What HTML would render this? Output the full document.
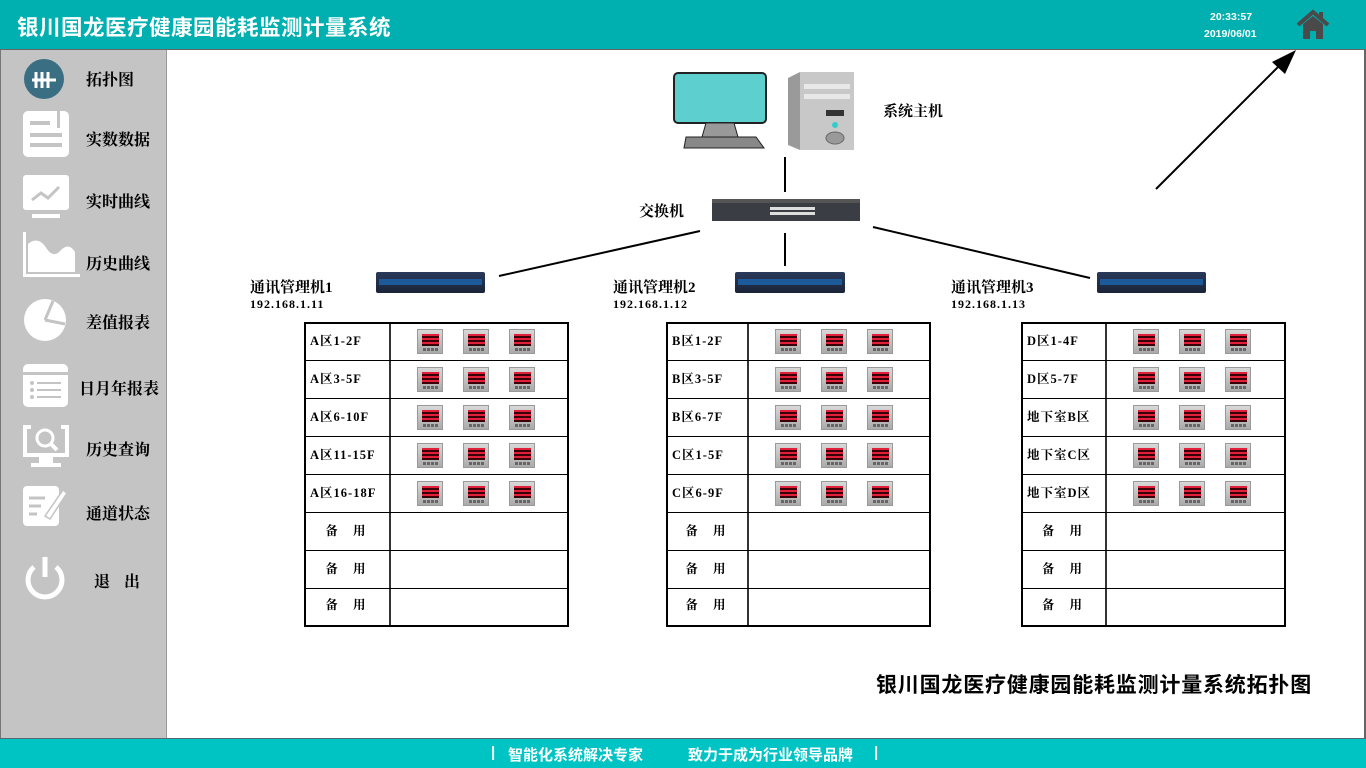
<!DOCTYPE html>
<html><head><meta charset="utf-8">
<style>
*{margin:0;padding:0;box-sizing:border-box}
body{width:1366px;height:768px;position:relative;overflow:hidden;background:#fff;font-family:"Liberation Sans","Noto Sans CJK SC",sans-serif}
.hdr{position:absolute;left:0;top:0;width:1366px;height:50px;background:#00afaf;border-bottom:1px solid #666}
.hdr .t{position:absolute;left:17px;top:11px;color:#fff;font-size:21.5px;font-weight:bold;letter-spacing:0.5px}
.clock{position:absolute;left:1204px;color:#fff;font-size:10.5px;font-weight:bold;font-family:"Liberation Sans",sans-serif}
.side{position:absolute;left:0;top:50px;width:167px;height:689px;background:#c4c4c4;border-left:1px solid #777;border-right:1px solid #999}
.side .lb{position:absolute;font-size:16px;font-weight:bold;color:#000;font-family:"Liberation Serif","Noto Serif CJK SC",serif}
.side svg{position:absolute}
.ftr{position:absolute;left:0;top:738px;width:1366px;height:30px;background:#00c4c4;border-top:1px solid #567}
.ftr span{position:absolute;top:5px;color:#fff;font-size:15px;font-weight:bold}
.rb{position:absolute;left:1364px;top:50px;width:2px;height:689px;background:#666}
.tbl{position:absolute;border:2px solid #000;background:#fff}
.row{position:absolute;left:0;height:38px;border-top:1px solid #000}
.vd{position:absolute;top:0;width:2px;height:100%;background:#333}
.lab{position:absolute;font-size:12.5px;font-weight:bold;font-family:"Liberation Serif","Noto Serif CJK SC",serif;color:#000;letter-spacing:1px}
.m{position:absolute;width:26px;height:25px;background:linear-gradient(#d8d8d8,#aaa);border:1px solid #999}
.m:before{content:"";position:absolute;left:4px;top:4px;width:17px;height:12px;background:repeating-linear-gradient(#e0203a 0 2px,#3a0008 2px 4px)}
.m:after{content:"";position:absolute;left:5px;top:18px;width:15px;height:3px;background:repeating-linear-gradient(90deg,#666 0 3px,transparent 3px 4px)}
.txt{position:absolute;font-weight:bold;color:#000;font-family:"Liberation Serif","Noto Serif CJK SC",serif}
.dev{position:absolute;height:21px;background:linear-gradient(#2a3a5a,#1a2438);border-radius:2px}
.dev:before{content:"";position:absolute;left:3px;right:3px;top:7px;height:6px;background:#1c5a9a}
</style></head><body>
<div class="hdr"><div class="t">银川国龙医疗健康园能耗监测计量系统</div>
<div class="clock" style="top:11px;left:1210px">20:33:57</div>
<div class="clock" style="top:28px">2019/06/01</div>
<svg style="position:absolute;left:1296px;top:9px" width="34" height="32" viewBox="0 0 34 32"><path d="M2 16 L17 3 L32 16" fill="none" stroke="#4a4a4a" stroke-width="4"/><rect x="23" y="3" width="4" height="8" fill="#4a4a4a"/><path d="M7 15 L17 7 L27 15 V30 H20 V22 H14 V30 H7 Z" fill="#4a4a4a"/></svg>
</div>

<div class="side">
<svg style="left:22px;top:8px" width="42" height="42"><circle cx="21" cy="21" r="20" fill="#3a6e82"/><path d="M9 22 H33 M13 14 V30 M19 14 V30 M25 14 V30" stroke="#fff" stroke-width="3" fill="none"/></svg>
<div class="lb" style="left:85px;top:17px">拓扑图</div>
<svg style="left:22px;top:61px" width="46" height="46"><rect x="0" y="0" width="46" height="46" rx="5" fill="#fff"/><rect x="7" y="10" width="20" height="4" fill="#c4c4c4"/><rect x="7" y="22" width="32" height="4" fill="#c4c4c4"/><rect x="7" y="32" width="32" height="4" fill="#c4c4c4"/><rect x="34" y="0" width="3" height="17" fill="#c4c4c4"/></svg>
<div class="lb" style="left:85px;top:77px">实数数据</div>
<svg style="left:22px;top:125px" width="48" height="45"><rect x="0" y="0" width="46" height="35" rx="3" fill="#fff"/><path d="M9 25 L18 18 L25 23 L36 12" stroke="#c4c4c4" stroke-width="3" fill="none"/><rect x="9" y="39" width="28" height="4" fill="#fff"/></svg>
<div class="lb" style="left:85px;top:139px">实时曲线</div>
<svg style="left:22px;top:182px" width="58" height="46"><rect x="0" y="0" width="3" height="45" fill="#fff"/><rect x="0" y="42" width="57" height="3" fill="#fff"/><path d="M5 40 V12 Q14 4 22 14 Q30 28 38 18 Q46 10 52 20 V40 Z" fill="#fff"/></svg>
<div class="lb" style="left:85px;top:201px">历史曲线</div>
<svg style="left:22px;top:248px" width="44" height="44"><circle cx="22" cy="22" r="21" fill="#fff"/><path d="M22 22 L30 3 M22 22 L42 26" stroke="#c4c4c4" stroke-width="3"/></svg>
<div class="lb" style="left:85px;top:260px">差值报表</div>
<svg style="left:22px;top:314px" width="46" height="44"><rect x="0" y="0" width="45" height="43" rx="5" fill="#fff"/><rect x="0" y="8" width="45" height="3" fill="#c4c4c4"/><g fill="#c4c4c4"><circle cx="9" cy="19" r="2"/><circle cx="9" cy="26" r="2"/><circle cx="9" cy="33" r="2"/><rect x="14" y="18" width="24" height="2"/><rect x="14" y="25" width="24" height="2"/><rect x="14" y="32" width="24" height="2"/></g></svg>
<div class="lb" style="left:78px;top:326px">日月年报表</div>
<svg style="left:22px;top:375px" width="46" height="44"><path d="M8 2 H2 V30 H44 V2 H38" stroke="#fff" stroke-width="4" fill="none"/><circle cx="22" cy="13" r="8" stroke="#fff" stroke-width="3" fill="none"/><path d="M28 19 L34 25" stroke="#fff" stroke-width="4"/><rect x="16" y="32" width="14" height="6" fill="#fff"/><rect x="8" y="38" width="30" height="4" fill="#fff"/></svg>
<div class="lb" style="left:85px;top:387px">历史查询</div>
<svg style="left:22px;top:432px" width="46" height="46"><rect x="0" y="4" width="36" height="40" rx="4" fill="#fff"/><path d="M6 16 H22 M6 24 H18 M6 32 H14" stroke="#c4c4c4" stroke-width="3"/><path d="M22 34 L40 8 L44 11 L27 37 Z" fill="#fff" stroke="#c4c4c4" stroke-width="1.5"/></svg>
<div class="lb" style="left:85px;top:451px">通道状态</div>
<svg style="left:22px;top:505px" width="44" height="48"><path d="M11 12 A17 17 0 1 0 33 12" stroke="#fff" stroke-width="5" fill="none"/><rect x="19.5" y="2" width="5" height="20" fill="#fff"/></svg>
<div class="lb" style="left:93px;top:519px;letter-spacing:14px">退出</div>
</div>
<div class="rb"></div>

<svg style="position:absolute;left:0;top:0" width="1366" height="768">
<g stroke="#000" stroke-width="2" fill="none">
<path d="M785 157 V192"/><path d="M785 233 V266"/>
<path d="M700 231 L499 276"/><path d="M873 227 L1090 278"/>
<path d="M1156 189 L1283 62"/>
</g>
<path d="M1296 50 L1272 62 L1285 74 Z" fill="#000"/>
<rect x="674" y="73" width="92" height="50" rx="4" fill="#5ecfcf" stroke="#222" stroke-width="2"/>
<path d="M706 123 L702 137 H738 L734 123 Z" fill="#999" stroke="#222"/>
<path d="M686 137 H756 L764 148 H684 Z" fill="#888" stroke="#222"/>
<path d="M788 78 L800 72 H854 V150 H800 L788 145 Z" fill="#9a9a9a"/>
<rect x="800" y="72" width="54" height="78" fill="#c8c8c8"/>
<rect x="804" y="84" width="46" height="5" fill="#e8e8e8"/><rect x="804" y="94" width="46" height="5" fill="#e8e8e8"/>
<rect x="826" y="110" width="18" height="6" fill="#333"/>
<circle cx="835" cy="125" r="3" fill="#3cc"/><ellipse cx="835" cy="138" rx="9" ry="6" fill="#999" stroke="#666"/>
<rect x="712" y="199" width="148" height="22" fill="#3a3e44"/>
<rect x="712" y="199" width="148" height="4" fill="#555"/>
<g fill="#ddd"><rect x="770" y="207" width="45" height="3"/><rect x="770" y="212" width="45" height="3"/></g>
</svg>
<div class="dev" style="left:376px;top:272px;width:109px"></div>
<div class="dev" style="left:735px;top:272px;width:110px"></div>
<div class="dev" style="left:1097px;top:272px;width:109px"></div>

<div class="txt" style="left:883px;top:100px;font-size:15px">系统主机</div>
<div class="txt" style="left:639px;top:200px;font-size:15px">交换机</div>
<div class="txt" style="left:250px;top:276px;font-size:15px">通讯管理机1</div>
<div class="txt" style="left:250px;top:297px;font-size:12px;letter-spacing:1px">192.168.1.11</div>
<div class="txt" style="left:613px;top:276px;font-size:15px">通讯管理机2</div>
<div class="txt" style="left:613px;top:297px;font-size:12px;letter-spacing:1px">192.168.1.12</div>
<div class="txt" style="left:951px;top:276px;font-size:15px">通讯管理机3</div>
<div class="txt" style="left:951px;top:297px;font-size:12px;letter-spacing:1px">192.168.1.13</div>
<div class="txt" style="left:876px;top:669px;font-size:21px;letter-spacing:0.8px;font-family:'Liberation Sans','Noto Sans CJK SC',sans-serif">银川国龙医疗健康园能耗监测计量系统拓扑图</div>

<div id="tables"></div>
<script>
var T=[[304,389,["A区1-2F","A区3-5F","A区6-10F","A区11-15F","A区16-18F"]],[666,747,["B区1-2F","B区3-5F","B区6-7F","C区1-5F","C区6-9F"]],[1021,1105,["D区1-4F","D区5-7F","地下室B区","地下室C区","地下室D区"]]];
var h="";
T.forEach(function(t){var x=t[0],d=t[1]-t[0];
h+='<div class="tbl" style="left:'+x+'px;top:322px;width:265px;height:305px"><div class="vd" style="left:'+(d-2)+'px"></div>';
for(var i=0;i<8;i++){
if(i>0)h+='<div class="row" style="top:'+(i*38-2)+'px;width:100%"></div>';
var lbl=i<5?t[2][i]:"备 用";
h+='<div class="lab" style="top:'+(i*38+7+(i==7?-2:0))+'px;'+(i<5?'left:4px':'left:0;width:'+d+'px;text-align:center;letter-spacing:6px')+'">'+lbl+'</div>';
if(i<5)for(var k=0;k<3;k++)h+='<div class="m" style="left:'+(d+26+k*46)+'px;top:'+(i*38+5)+'px"></div>';}
h+='</div>';});
document.getElementById("tables").innerHTML=h;
</script>

<div class="ftr"><span style="left:491px">|</span><span style="left:508px">智能化系统解决专家</span><span style="left:688px">致力于成为行业领导品牌</span><span style="left:874px">|</span></div>
</body></html>
